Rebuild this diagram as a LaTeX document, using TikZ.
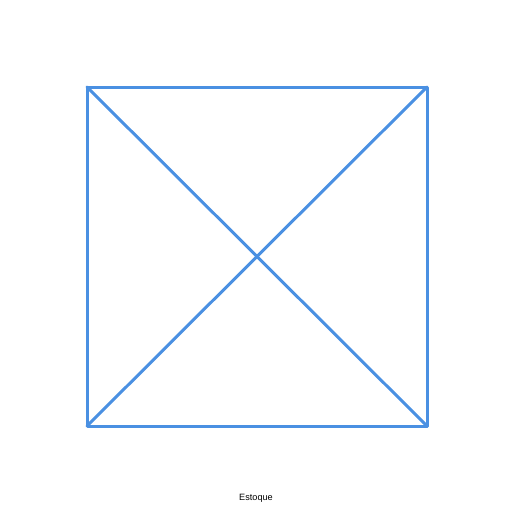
\documentclass[tikz,border=0pt]{standalone}
\usepackage{fontspec}
\setmainfont{Liberation Sans}
\usepackage{tikz}
\usetikzlibrary{positioning}
\definecolor{stockblue}{RGB}{74,144,226}

\begin{document}
\begin{tikzpicture}[x=0.05cm,y=-0.05cm,
  edge/.style={draw=stockblue,line width=0.15cm,line cap=round,line join=round},
  lbl/.style={font=\fontsize{13}{15}\selectfont,inner sep=0pt},
]
\useasboundingbox (0,0) rectangle (512,512);
% corners of the box
\coordinate (tl) at (87,87);
\coordinate (tr) at (427,87);
\coordinate (br) at (427,426);
\coordinate (bl) at (87,426);

% box and diagonals
\draw[edge] (tl) -- (tr) -- (br) -- (bl) -- cycle;
\draw[edge] (tl) -- (br);
\draw[edge] (tr) -- (bl);

\node[lbl] (cap) at (256,498.5) {Estoque};
\end{tikzpicture}
\end{document}
